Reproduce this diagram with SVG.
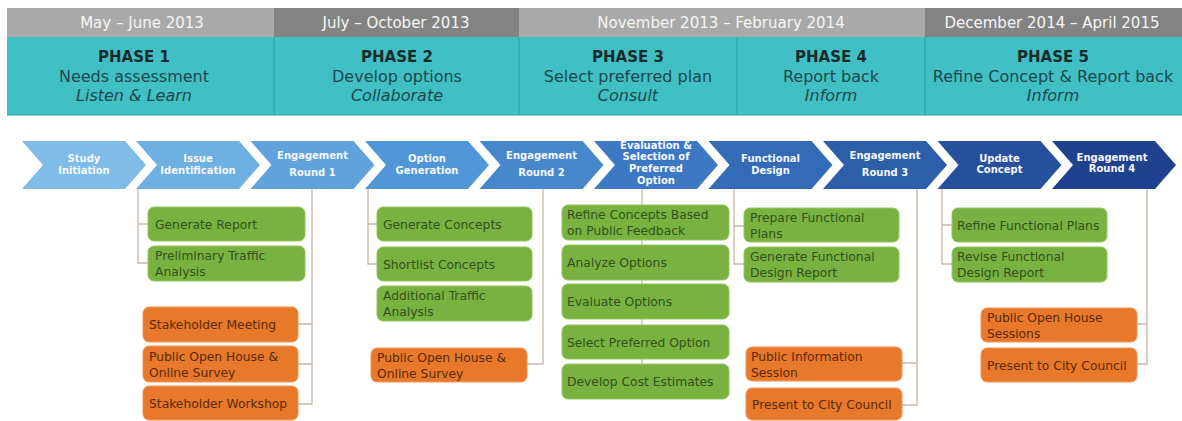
<svg xmlns="http://www.w3.org/2000/svg" width="1182" height="421" viewBox="0 0 1182 421">
<style>
.gl{fill:#a9a9a9}
.gd{fill:#838383}
.gt{font-family:"DejaVu Sans",sans-serif;font-size:15px;fill:#f6f6f6;text-anchor:middle}
.teal{fill:#40c0c4}
.div{stroke:#2d9ea3;stroke-width:1}
.ph{font-family:"DejaVu Sans",sans-serif;font-size:15px;font-weight:bold;fill:#1b2a2c;text-anchor:middle}
.pt{font-family:"DejaVu Sans",sans-serif;font-size:16px;fill:#1d474d;text-anchor:middle}
.pi{font-family:"DejaVu Sans",sans-serif;font-size:16px;font-style:italic;fill:#1d474d;text-anchor:middle}
.cv text{font-family:"DejaVu Sans",sans-serif;font-size:10px;font-weight:bold;fill:#f4f8fc;text-anchor:middle}
.g rect{fill:#7ab241;stroke:#93c55e;stroke-width:1}
.o rect{fill:#e8782a;stroke:#f0965a;stroke-width:1}
.g text{font-family:"DejaVu Sans",sans-serif;font-size:12.3px;fill:#33501a}
.o text{font-family:"DejaVu Sans",sans-serif;font-size:12.3px;fill:#5a2a0a}
.con{fill:none;stroke:#c9b6a6;stroke-width:1.3}
</style>
<defs>
<polygon id="chev" points="0,141 103,141 124,165 103,189 0,189 21,165"/>
</defs>
<rect width="1182" height="421" fill="#ffffff"/>

<g id="header">
<rect class="gl" x="7" y="8" width="267" height="29"/>
<rect class="gd" x="274" y="8" width="245" height="29"/>
<rect class="gl" x="519" y="8" width="406" height="29"/>
<rect class="gd" x="925" y="8" width="257" height="29"/>
<text class="gt" x="142" y="27.5">May – June 2013</text>
<text class="gt" x="396" y="27.5">July – October 2013</text>
<text class="gt" x="721" y="27.5">November 2013 – February 2014</text>
<text class="gt" x="1052" y="27.5">December 2014 – April 2015</text>
<rect class="teal" x="7" y="37" width="1175" height="78"/>
<line class="div" x1="274" y1="37" x2="274" y2="115"/>
<line class="div" x1="519" y1="37" x2="519" y2="115"/>
<line class="div" x1="737" y1="37" x2="737" y2="115"/>
<line class="div" x1="925" y1="37" x2="925" y2="115"/>
<line x1="7" y1="115" x2="1182" y2="115" stroke="#2d9ea3" stroke-width="1"/>
</g>

<g id="phase1"><text class="ph" x="134" y="62">PHASE 1</text><text class="pt" x="134" y="82">Needs assessment</text><text class="pi" x="134" y="101">Listen &amp; Learn</text></g>
<g id="phase2"><text class="ph" x="397" y="62">PHASE 2</text><text class="pt" x="397" y="82">Develop options</text><text class="pi" x="397" y="101">Collaborate</text></g>
<g id="phase3"><text class="ph" x="628" y="62">PHASE 3</text><text class="pt" x="628" y="82">Select preferred plan</text><text class="pi" x="628" y="101">Consult</text></g>
<g id="phase4"><text class="ph" x="831" y="62">PHASE 4</text><text class="pt" x="831" y="82">Report back</text><text class="pi" x="831" y="101">Inform</text></g>
<g id="phase5"><text class="ph" x="1053" y="62">PHASE 5</text><text class="pt" x="1053" y="82">Refine Concept &amp; Report back</text><text class="pi" x="1053" y="101">Inform</text></g>

<g id="connectors">
<path class="con" d="M138,189 V263 H148 M138,224 H148"/>
<path class="con" d="M312,189 V404 H298 M312,324 H298 M312,364 H298"/>
<path class="con" d="M368,189 V264 H377 M368,224 H377"/>
<path class="con" d="M543,189 V364 H527"/>
<path class="con" d="M642,189 V380"/>
<path class="con" d="M734,189 V264 H744 M734,226 H744"/>
<path class="con" d="M917,189 V405 H902 M917,363 H902"/>
<path class="con" d="M942,189 V264 H952 M942,225 H952"/>
<path class="con" d="M1147,189 V364 H1137 M1147,324 H1137"/>
</g>

<g id="c1" class="cv"><use href="#chev" x="22" fill="#7fbce7"/><text x="84" y="162">Study</text><text x="84" y="174">Initiation</text></g>
<g id="c2" class="cv"><use href="#chev" x="136" fill="#6eb0e2"/><text x="198" y="162">Issue</text><text x="198" y="174">Identification</text></g>
<g id="c3" class="cv"><use href="#chev" x="250.5" fill="#5fa2dc"/><text x="312.5" y="159">Engagement</text><text x="312.5" y="176">Round 1</text></g>
<g id="c4" class="cv"><use href="#chev" x="365" fill="#5196d6"/><text x="427" y="162">Option</text><text x="427" y="174">Generation</text></g>
<g id="c5" class="cv"><use href="#chev" x="479.5" fill="#4787cc"/><text x="541.5" y="159">Engagement</text><text x="541.5" y="176">Round 2</text></g>
<g id="c6" class="cv"><use href="#chev" x="594" fill="#3d78c2"/><text x="656" y="149">Evaluation &amp;</text><text x="656" y="160">Selection of</text><text x="656" y="172">Preferred</text><text x="656" y="184">Option</text></g>
<g id="c7" class="cv"><use href="#chev" x="708.5" fill="#346bb6"/><text x="770.5" y="162">Functional</text><text x="770.5" y="174">Design</text></g>
<g id="c8" class="cv"><use href="#chev" x="823" fill="#2d5ea9"/><text x="885" y="159">Engagement</text><text x="885" y="176">Round 3</text></g>
<g id="c9" class="cv"><use href="#chev" x="937.5" fill="#27509c"/><text x="999.5" y="162">Update</text><text x="999.5" y="173">Concept</text></g>
<g id="c10" class="cv"><use href="#chev" x="1052" fill="#20418e"/><text x="1112" y="161">Engagement</text><text x="1112" y="172">Round 4</text></g>

<g id="b1" class="g"><rect x="148" y="207" width="157" height="34" rx="6"/><text x="155" y="228.5">Generate Report</text></g>
<g id="b2" class="g"><rect x="148" y="246" width="157" height="35" rx="6"/><text x="155" y="260">Preliminary Traffic</text><text x="155" y="276">Analysis</text></g>
<g id="b3" class="o"><rect x="143" y="307" width="155" height="35" rx="6"/><text x="149" y="329">Stakeholder Meeting</text></g>
<g id="b4" class="o"><rect x="143" y="346" width="155" height="36" rx="6"/><text x="149" y="360.5">Public Open House &amp;</text><text x="149" y="376.5">Online Survey</text></g>
<g id="b5" class="o"><rect x="143" y="386" width="155" height="34" rx="6"/><text x="149" y="407.5">Stakeholder Workshop</text></g>

<g id="b6" class="g"><rect x="377" y="207" width="155" height="34" rx="6"/><text x="383" y="228.5">Generate Concepts</text></g>
<g id="b7" class="g"><rect x="377" y="247" width="155" height="34" rx="6"/><text x="383" y="268.5">Shortlist Concepts</text></g>
<g id="b8" class="g"><rect x="377" y="286" width="155" height="35" rx="6"/><text x="383" y="300">Additional Traffic</text><text x="383" y="316">Analysis</text></g>
<g id="b9" class="o"><rect x="371" y="348" width="156" height="34" rx="6"/><text x="377" y="362">Public Open House &amp;</text><text x="377" y="378">Online Survey</text></g>

<g id="b10" class="g"><rect x="562" y="205" width="167" height="35" rx="6"/><text x="567" y="219">Refine Concepts Based</text><text x="567" y="235">on Public Feedback</text></g>
<g id="b11" class="g"><rect x="562" y="245" width="167" height="35" rx="6"/><text x="567" y="267">Analyze Options</text></g>
<g id="b12" class="g"><rect x="562" y="284" width="167" height="35" rx="6"/><text x="567" y="306">Evaluate Options</text></g>
<g id="b13" class="g"><rect x="562" y="325" width="167" height="34" rx="6"/><text x="567" y="346.5">Select Preferred Option</text></g>
<g id="b14" class="g"><rect x="562" y="364" width="167" height="35" rx="6"/><text x="567" y="386">Develop Cost Estimates</text></g>

<g id="b15" class="g"><rect x="744" y="208" width="155" height="34" rx="6"/><text x="750" y="222">Prepare Functional</text><text x="750" y="238">Plans</text></g>
<g id="b16" class="g"><rect x="744" y="247" width="155" height="35" rx="6"/><text x="750" y="261">Generate Functional</text><text x="750" y="277">Design Report</text></g>
<g id="b17" class="o"><rect x="746" y="347" width="156" height="34" rx="6"/><text x="751" y="361">Public Information</text><text x="751" y="377">Session</text></g>
<g id="b18" class="o"><rect x="746" y="388" width="156" height="32" rx="6"/><text x="752" y="408.5">Present to City Council</text></g>

<g id="b19" class="g"><rect x="952" y="208" width="155" height="34" rx="6"/><text x="957" y="229.5">Refine Functional Plans</text></g>
<g id="b20" class="g"><rect x="952" y="247" width="155" height="35" rx="6"/><text x="957" y="261">Revise Functional</text><text x="957" y="277">Design Report</text></g>
<g id="b21" class="o"><rect x="981" y="308" width="156" height="34" rx="6"/><text x="987" y="322">Public Open House</text><text x="987" y="338">Sessions</text></g>
<g id="b22" class="o"><rect x="981" y="348" width="156" height="34" rx="6"/><text x="987" y="369.5">Present to City Council</text></g>
</svg>
